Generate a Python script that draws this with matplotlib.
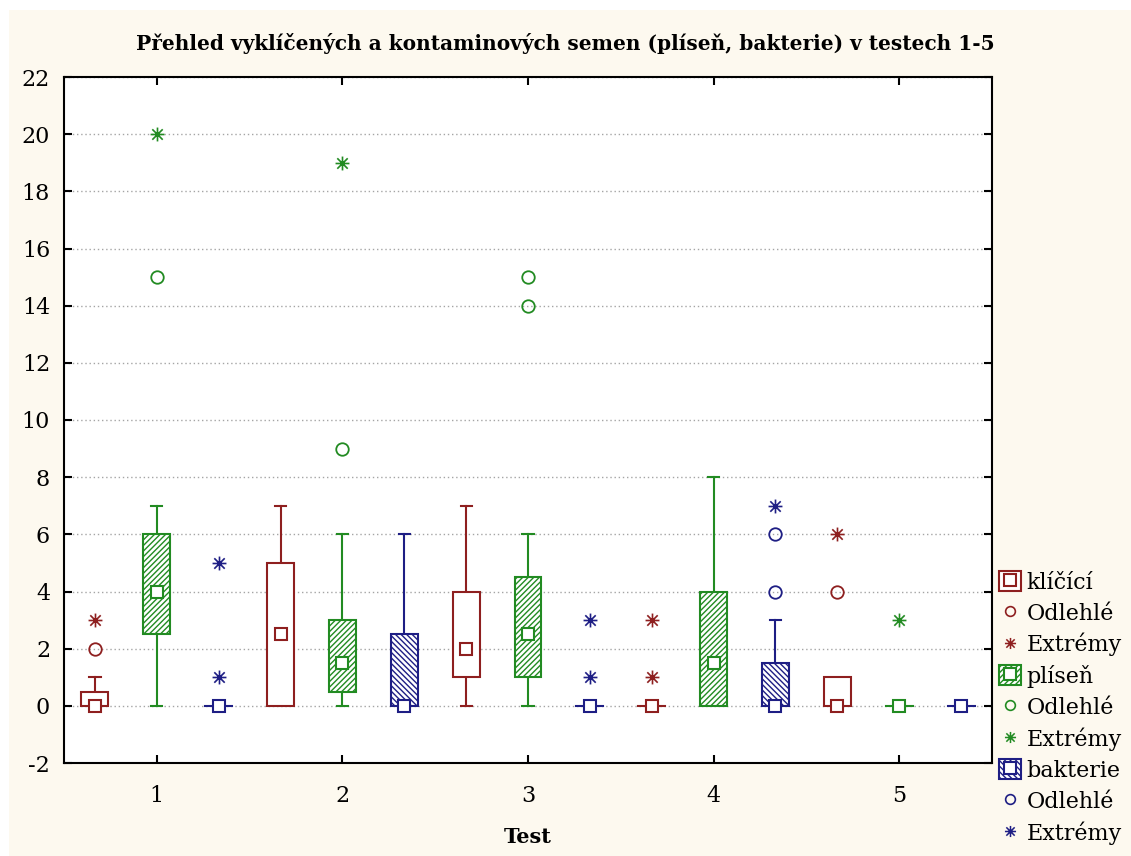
import matplotlib
matplotlib.use('Agg')
import matplotlib.pyplot as plt
import numpy as np
from matplotlib.patches import Rectangle
from matplotlib.lines import Line2D
from matplotlib.path import Path
from matplotlib.legend_handler import HandlerTuple

# data (values per test 1..5)
tests = [1, 2, 3, 4, 5]
series_names = ['klíčící', 'plíseň', 'bakterie']

klic_med = [0, 2.5, 2, 0, 0]
klic_q1 = [0, 0, 1, 0, 0]
klic_q3 = [0.5, 5, 4, 0, 1]
klic_wlo = [0, 0, 0, 0, 0]
klic_whi = [1, 7, 7, 0, 1]
klic_out = [[2], [], [], [], [4]]
klic_ext = [[3], [], [], [1, 3], [6]]

plis_med = [4, 1.5, 2.5, 1.5, 0]
plis_q1 = [2.5, 0.5, 1, 0, 0]
plis_q3 = [6, 3, 4.5, 4, 0]
plis_wlo = [0, 0, 0, 0, 0]
plis_whi = [7, 6, 6, 8, 0]
plis_out = [[15], [9], [14, 15], [], []]
plis_ext = [[20], [19], [], [], [3]]

bakt_med = [0, 0, 0, 0, 0]
bakt_q1 = [0, 0, 0, 0, 0]
bakt_q3 = [0, 2.5, 0, 1.5, 0]
bakt_wlo = [0, 0, 0, 0, 0]
bakt_whi = [0, 6, 0, 3, 0]
bakt_out = [[], [], [], [4, 6], []]
bakt_ext = [[1, 5], [], [1, 3], [7], []]

COLORS = ['#8E1F1F', '#228B22', '#1E1E84']
HATCHES = [None, '//////', '\\\\\\\\\\\\']
OFFSETS = [-1 / 3, 0, 1 / 3]
BOX_W = 0.145
CAP_W = 0.06

# asterisk-like marker used for extremes
star = Path([(-1, 0), (1, 0), (0, -1), (0, 1), (-0.75, -0.75), (0.75, 0.75),
             (-0.75, 0.75), (0.75, -0.75)],
            [Path.MOVETO, Path.LINETO] * 4)

plt.rcParams['font.family'] = 'DejaVu Serif'
plt.rcParams['hatch.linewidth'] = 1.0
plt.rcParams['axes.unicode_minus'] = False

fig = plt.figure(figsize=(11.31, 8.56), dpi=100, facecolor='#FDF9EF')
# thin white strips along the top and left edge, as in the screenshot
fig.patches.append(Rectangle((0, 1 - 10 / 856), 1, 10 / 856, transform=fig.transFigure,
                             facecolor='white', edgecolor='none', zorder=-10))
fig.patches.append(Rectangle((0, 0), 9 / 1131, 1, transform=fig.transFigure,
                             facecolor='white', edgecolor='none', zorder=-10))
ax = fig.add_axes([64 / 1131, 93 / 856, 928 / 1131, 686 / 856])
ax.set_facecolor('white')

data = [
    (klic_med, klic_q1, klic_q3, klic_wlo, klic_whi, klic_out, klic_ext),
    (plis_med, plis_q1, plis_q3, plis_wlo, plis_whi, plis_out, plis_ext),
    (bakt_med, bakt_q1, bakt_q3, bakt_wlo, bakt_whi, bakt_out, bakt_ext),
]

lw = 1.5
for s, (med, q1, q3, wlo, whi, out, ext) in enumerate(data):
    c = COLORS[s]
    for i, t in enumerate(tests):
        x = t + OFFSETS[s]
        if q3[i] > q1[i]:
            ax.add_patch(Rectangle((x - BOX_W / 2, q1[i]), BOX_W, q3[i] - q1[i],
                                   facecolor='white', edgecolor=c, hatch=HATCHES[s],
                                   linewidth=lw, zorder=3))
        else:
            ax.plot([x - BOX_W / 2, x + BOX_W / 2], [q1[i], q1[i]], color=c, lw=lw, zorder=3)
        if whi[i] > q3[i]:
            ax.plot([x, x], [q3[i], whi[i]], color=c, lw=lw, zorder=2)
            ax.plot([x - CAP_W / 2, x + CAP_W / 2], [whi[i], whi[i]], color=c, lw=lw, zorder=2)
        if wlo[i] < q1[i]:
            ax.plot([x, x], [wlo[i], q1[i]], color=c, lw=lw, zorder=2)
            ax.plot([x - CAP_W / 2, x + CAP_W / 2], [wlo[i], wlo[i]], color=c, lw=lw, zorder=2)
        ax.plot([x], [med[i]], marker='s', ms=9, mfc='white', mec=c, mew=lw, ls='', zorder=4)
        if out[i]:
            ax.plot([x] * len(out[i]), out[i], marker='o', ms=9, mfc='none', mec=c,
                    mew=1.3, ls='', zorder=4)
        if ext[i]:
            ax.plot([x] * len(ext[i]), ext[i], marker=star, ms=10, mfc='none', mec=c,
                    mew=1.2, ls='', zorder=4)

ax.set_xlim(0.5, 5.5)
ax.set_ylim(-2, 22)
ax.set_xticks(tests)
ax.set_yticks(np.arange(-2, 23, 2))
ax.yaxis.grid(True, linestyle=(0, (1, 2)), color='#A5A5A5', linewidth=1)
ax.set_axisbelow(True)
ax.tick_params(direction='in', length=6, width=1.5, labelsize=16,
               top=True, right=True, pad=10)
ax.tick_params(axis='x', pad=16)
for sp in ax.spines.values():
    sp.set_linewidth(1.5)

# title is centred on the whole figure, not on the axes
fig.text(0.5, 1 - 43 / 856,
         'Přehled vyklíčených a kontaminových semen (plíseň, bakterie) v testech 1-5',
         fontsize=14.5, fontweight='bold', ha='center', va='center')
ax.set_xlabel('Test', fontsize=15, fontweight='bold', labelpad=14)

# legend
handles = []
labels = []
for s in range(3):
    c = COLORS[s]
    box = Rectangle((0, 0), 1, 1, facecolor='white', edgecolor=c, hatch=HATCHES[s], linewidth=lw)
    mk = Line2D([], [], marker='s', ms=8, mfc='white', mec=c, mew=lw, ls='')
    handles.append((box, mk))
    labels.append(series_names[s])
    handles.append(Line2D([], [], marker='o', ms=7, mfc='none', mec=c, mew=1.2, ls=''))
    labels.append('Odlehlé')
    handles.append(Line2D([], [], marker=star, ms=8, mfc='none', mec=c, mew=1.1, ls=''))
    labels.append('Extrémy')

fig.legend(handles, labels, loc='upper left', bbox_to_anchor=(999 / 1131, 285 / 856),
           frameon=False, fontsize=16, handlelength=1.0, handleheight=1.0,
           handletextpad=0.25, labelspacing=0.38, borderpad=0, borderaxespad=0,
           handler_map={tuple: HandlerTuple(ndivide=1, pad=0)})

fig.savefig('out.png', dpi=100, facecolor=fig.get_facecolor())
